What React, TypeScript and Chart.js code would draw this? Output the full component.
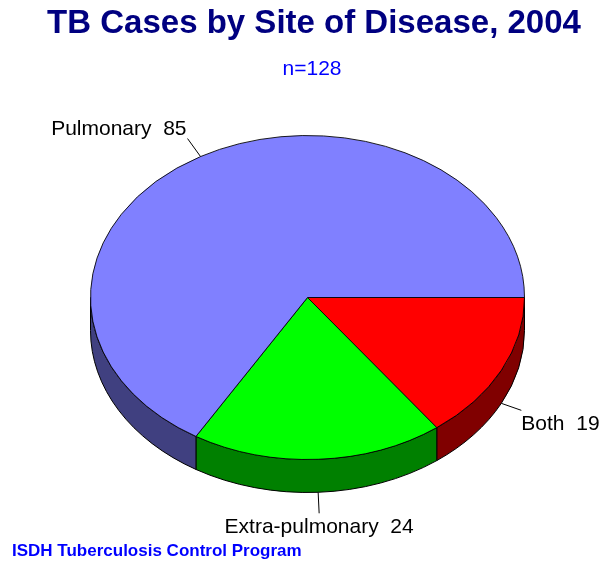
import { useEffect, useRef } from 'react';
import { Chart, registerables } from 'chart.js';

Chart.register(...registerables);

const categories = ['Both', 'Extra-pulmonary', 'Pulmonary'];
const cases = [19, 24, 85];
const topColors = ['#ff0000', '#00ff00', '#8080ff'];
const sideColors = ['#800000', '#008000', '#404080'];
const titleText = 'TB Cases by Site of Disease, 2004';
const subtitleText = 'n=128';
const footerText = 'ISDH Tuberculosis Control Program';

const TILT = 0.7465;
const DEPTH = 33;
const FONT = "'Liberation Sans', Arial, Helvetica, sans-serif";

// per-slice label placement: where the leader starts (top face or side bottom),
// leader offset from that point, text offset from leader end, alignment
const labelLayout: { from: 'top' | 'side'; lead: [number, number]; text: [number, number]; align: CanvasTextAlign }[] = [
  { from: 'side', lead: [20, 7], text: [0, 20], align: 'left' },
  { from: 'side', lead: [1, 21], text: [0, 20], align: 'center' },
  { from: 'top', lead: [-13, -18], text: [-1, -4], align: 'right' },
];

const pie3d = {
  id: 'pie3d',
  beforeDatasetsDraw(chart: any) {
    const ctx: CanvasRenderingContext2D = chart.ctx;
    const arcs = chart.getDatasetMeta(0).data as any[];
    if (!arcs.length) return;
    const { x, y, outerRadius: r } = arcs[0];
    const ry = r * TILT;
    arcs.forEach((arc, i) => {
      const a1 = Math.max(arc.startAngle, 0);
      const a2 = Math.min(arc.endAngle, Math.PI);
      if (a2 <= a1) return;
      ctx.save();
      ctx.beginPath();
      ctx.ellipse(x, y, r, ry, 0, a1, a2, false);
      ctx.lineTo(x + r * Math.cos(a2), y + ry * Math.sin(a2) + DEPTH);
      ctx.ellipse(x, y + DEPTH, r, ry, 0, a2, a1, true);
      ctx.closePath();
      ctx.fillStyle = sideColors[i];
      ctx.fill();
      ctx.lineWidth = 1;
      ctx.strokeStyle = '#000';
      ctx.stroke();
      ctx.restore();
    });
    ctx.save();
    ctx.translate(x, y);
    ctx.scale(1, TILT);
    ctx.translate(-x, -y);
  },
  afterDatasetsDraw(chart: any) {
    chart.ctx.restore();
  },
  afterDraw(chart: any) {
    const ctx: CanvasRenderingContext2D = chart.ctx;
    const arcs = chart.getDatasetMeta(0).data as any[];
    ctx.save();
    // titles
    ctx.textBaseline = 'alphabetic';
    ctx.textAlign = 'center';
    ctx.fillStyle = '#000080';
    ctx.font = `bold 33px ${FONT}`;
    ctx.fillText(titleText, 314, 33);
    ctx.fillStyle = '#0000ff';
    ctx.font = `21px ${FONT}`;
    ctx.fillText(subtitleText, 312, 75);
    ctx.textAlign = 'left';
    ctx.font = `bold 17px ${FONT}`;
    ctx.fillText(footerText, 12, 556);

    // slice labels
    if (arcs.length) {
      const { x, y, outerRadius: r } = arcs[0];
      const ry = r * TILT;
      ctx.font = `21px ${FONT}`;
      ctx.fillStyle = '#000';
      ctx.strokeStyle = '#000';
      ctx.lineWidth = 1;
      arcs.forEach((arc, i) => {
        const L = labelLayout[i];
        const mid = (arc.startAngle + arc.endAngle) / 2;
        const sx = x + r * Math.cos(mid);
        const sy = y + ry * Math.sin(mid) + (L.from === 'side' ? DEPTH : 0);
        const ex = sx + L.lead[0];
        const ey = sy + L.lead[1];
        ctx.beginPath();
        ctx.moveTo(sx, sy);
        ctx.lineTo(ex, ey);
        ctx.stroke();
        ctx.textAlign = L.align;
        ctx.fillText(`${categories[i]}  ${cases[i]}`, ex + L.text[0], ey + L.text[1]);
      });
    }
    ctx.restore();
  },
};

export default function App() {
  const ref = useRef<HTMLCanvasElement | null>(null);
  useEffect(() => {
    if (!ref.current) return;
    const chart = new Chart(ref.current, {
      type: 'pie',
      data: {
        labels: categories,
        datasets: [
          {
            data: cases,
            backgroundColor: topColors,
            borderColor: '#000',
            borderWidth: 1,
            clip: false as any,
          },
        ],
      },
      options: {
        responsive: false,
        animation: false,
        events: [],
        rotation: 90,
        layout: { padding: { left: 90, right: 80, top: 80, bottom: 46 } },
        plugins: {
          legend: { display: false },
          title: { display: false },
          tooltip: { enabled: false },
        },
      },
      plugins: [pie3d],
    });
    return () => chart.destroy();
  }, []);
  return (
    <div style={{ position: 'fixed', left: 0, top: 0, width: 605, height: 561, background: '#fff' }}>
      <canvas ref={ref} width={605} height={561} style={{ width: 605, height: 561, display: 'block' }} />
    </div>
  );
}
